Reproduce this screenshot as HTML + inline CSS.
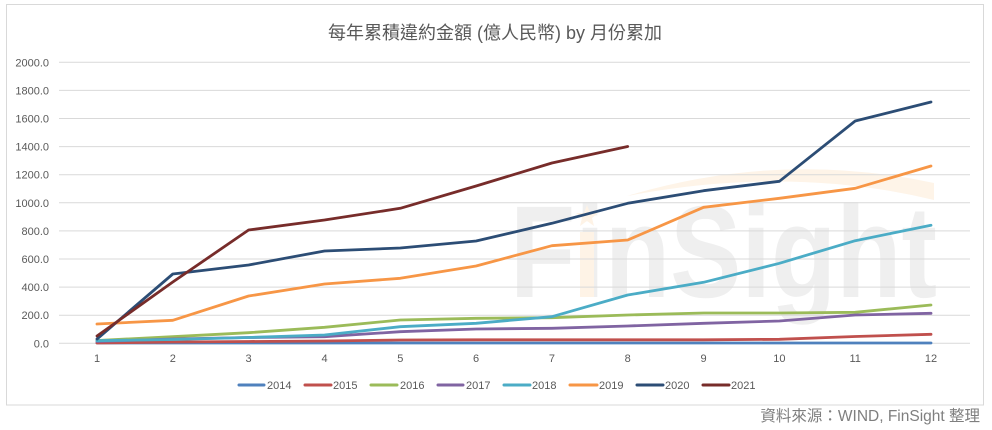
<!DOCTYPE html>
<html><head><meta charset="utf-8">
<style>
html,body{margin:0;padding:0;background:#fff;}
svg{display:block;}
text{font-family:"Liberation Sans","Noto Sans CJK TC",sans-serif;}
</style></head>
<body>
<svg width="992" height="430" viewBox="0 0 992 430" xmlns="http://www.w3.org/2000/svg">
<rect x="0" y="0" width="992" height="430" fill="#fff"/>
<rect x="6.5" y="4.5" width="977" height="400.5" fill="#fff" stroke="#d9d9d9" stroke-width="1"/>
<text x="495" y="39" font-size="18" fill="#595959" text-anchor="middle">每年累積違約金額 (億人民幣) by 月份累加</text>

<!-- watermark -->
<path d="M627 196 Q780 150 934 183 L934 200 Q790 165 627 196 Z" fill="#fef4e8"/>
<text x="510" y="297" font-size="131" font-weight="bold" fill="#efefef" textLength="427" lengthAdjust="spacingAndGlyphs">FinSight</text>
<rect x="580" y="232" width="14" height="65" fill="#fef3e6"/>
<polygon points="587,205 590,213 598,213 592,218 594,226 587,221 580,226 582,218 576,213 584,213" fill="#fef3e6"/>

<!-- gridlines -->
<g stroke="#d9d9d9" stroke-width="1">
<line x1="59" x2="970" y1="343.3" y2="343.3"/>
<line x1="59" x2="970" y1="315.2" y2="315.2"/>
<line x1="59" x2="970" y1="287.1" y2="287.1"/>
<line x1="59" x2="970" y1="259.0" y2="259.0"/>
<line x1="59" x2="970" y1="230.9" y2="230.9"/>
<line x1="59" x2="970" y1="202.8" y2="202.8"/>
<line x1="59" x2="970" y1="174.7" y2="174.7"/>
<line x1="59" x2="970" y1="146.6" y2="146.6"/>
<line x1="59" x2="970" y1="118.5" y2="118.5"/>
<line x1="59" x2="970" y1="90.4" y2="90.4"/>
<line x1="59" x2="970" y1="62.3" y2="62.3"/>
</g>
<g font-size="11" fill="#595959" text-anchor="end">
<text x="49" y="347.3">0.0</text>
<text x="49" y="319.2">200.0</text>
<text x="49" y="291.1">400.0</text>
<text x="49" y="263.0">600.0</text>
<text x="49" y="234.9">800.0</text>
<text x="49" y="206.8">1000.0</text>
<text x="49" y="178.7">1200.0</text>
<text x="49" y="150.6">1400.0</text>
<text x="49" y="122.5">1600.0</text>
<text x="49" y="94.4">1800.0</text>
<text x="49" y="66.3">2000.0</text>
</g>
<g font-size="11" fill="#595959" text-anchor="middle">
<text x="97" y="362">1</text>
<text x="172.8" y="362">2</text>
<text x="248.6" y="362">3</text>
<text x="324.5" y="362">4</text>
<text x="400.3" y="362">5</text>
<text x="476.1" y="362">6</text>
<text x="551.9" y="362">7</text>
<text x="627.7" y="362">8</text>
<text x="703.6" y="362">9</text>
<text x="779.4" y="362">10</text>
<text x="855.2" y="362">11</text>
<text x="931" y="362">12</text>
</g>

<!-- series -->
<g fill="none" stroke-width="2.8" stroke-linejoin="round" stroke-linecap="round">
<polyline stroke="#4f81bd" points="97,343 172.8,343 248.6,343 324.5,343 400.3,343 476.1,343 551.9,343 627.7,343 703.6,343 779.4,343 855.2,343 931,343"/>
<polyline stroke="#c0504d" points="97,343 172.8,342 248.6,341.5 324.5,341 400.3,340 476.1,339.8 551.9,339.8 627.7,339.8 703.6,339.8 779.4,339.3 855.2,336.5 931,334.3"/>
<polyline stroke="#9bbb59" points="97,340.5 172.8,336.7 248.6,332.7 324.5,327.3 400.3,320 476.1,318.3 551.9,317.7 627.7,315 703.6,313 779.4,313 855.2,312.3 931,305"/>
<polyline stroke="#8064a2" points="97,341.5 172.8,339 248.6,337.5 324.5,336.7 400.3,331.7 476.1,329 551.9,328.3 627.7,326 703.6,323.3 779.4,321 855.2,315 931,313.3"/>
<polyline stroke="#4bacc6" points="97,340.7 172.8,339.5 248.6,337.5 324.5,335 400.3,326.7 476.1,323.3 551.9,316.7 627.7,295 703.6,282.3 779.4,263.3 855.2,240.7 931,225.3"/>
<polyline stroke="#f79646" points="97,324 172.8,320.3 248.6,296 324.5,284 400.3,278.3 476.1,266 551.9,245.7 627.7,240 703.6,207.3 779.4,198.3 855.2,188.3 931,166"/>
<polyline stroke="#2c4d75" points="97,339 172.8,274 248.6,265 324.5,251 400.3,248 476.1,241 551.9,223.3 627.7,203.3 703.6,190.7 779.4,181.3 855.2,121 931,102"/>
<polyline stroke="#772c2a" points="97,336 172.8,282 248.6,230 324.5,220 400.3,208.3 476.1,186 551.9,163 627.7,146.5"/>
</g>

<!-- legend -->
<g stroke-width="3" stroke-linecap="round">
<line x1="239" x2="264" y1="385" y2="385" stroke="#4f81bd"/>
<line x1="305" x2="331" y1="385" y2="385" stroke="#c0504d"/>
<line x1="371" x2="397" y1="385" y2="385" stroke="#9bbb59"/>
<line x1="438" x2="463" y1="385" y2="385" stroke="#8064a2"/>
<line x1="504" x2="530" y1="385" y2="385" stroke="#4bacc6"/>
<line x1="570" x2="597" y1="385" y2="385" stroke="#f79646"/>
<line x1="637" x2="663" y1="385" y2="385" stroke="#2c4d75"/>
<line x1="703" x2="729" y1="385" y2="385" stroke="#772c2a"/>
</g>
<g font-size="11" fill="#595959">
<text x="267" y="389">2014</text>
<text x="333" y="389">2015</text>
<text x="400" y="389">2016</text>
<text x="466" y="389">2017</text>
<text x="532" y="389">2018</text>
<text x="599" y="389">2019</text>
<text x="665" y="389">2020</text>
<text x="731" y="389">2021</text>
</g>

<text x="980" y="421" font-size="15.5" fill="#7f7f7f" text-anchor="end">資料來源：WIND, FinSight 整理</text>
</svg>
</body></html>
